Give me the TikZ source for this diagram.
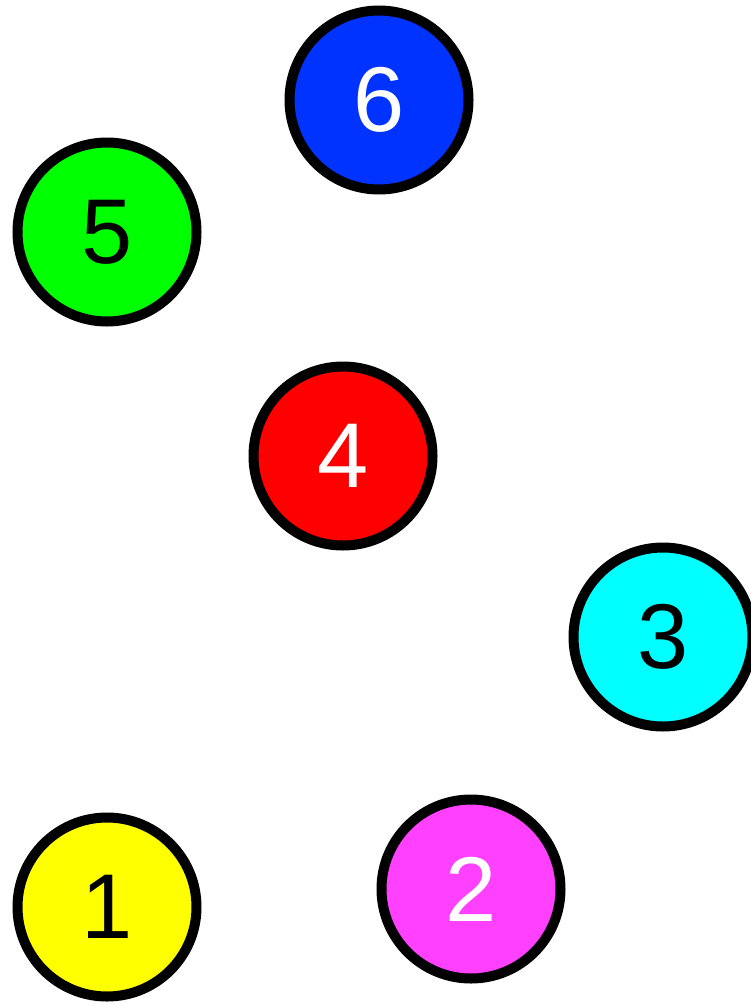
\documentclass[tikz,border=0pt]{standalone}
\usepackage{fontspec}
\setmainfont{Liberation Sans}
\definecolor{cblue}{RGB}{0,51,255}
\definecolor{cgreen}{RGB}{0,255,0}
\definecolor{cred}{RGB}{255,0,0}
\definecolor{ccyan}{RGB}{0,255,255}
\definecolor{cyellow}{RGB}{255,255,0}
\definecolor{cmagenta}{RGB}{255,64,255}
\begin{document}
\begin{tikzpicture}[x=1pt,y=-1pt,
  ball/.style={circle,draw=black,line width=10pt,minimum size=179pt,inner sep=0pt,
    font=\fontsize{92}{92}\selectfont}]
\useasboundingbox (0,0) rectangle (751,1004);
\node[ball,fill=cblue,text=white] (n6) at (379,100) {6};
\node[ball,fill=cgreen,text=black] (n5) at (107,232) {5};
\node[ball,fill=cred,text=white] (n4) at (343,456) {4};
\node[ball,fill=ccyan,text=black] (n3) at (663,637) {3};
\node[ball,fill=cyellow,text=black] (n1) at (107,907) {1};
\node[ball,fill=cmagenta,text=white] (n2) at (471,889) {2};
\end{tikzpicture}
\end{document}
